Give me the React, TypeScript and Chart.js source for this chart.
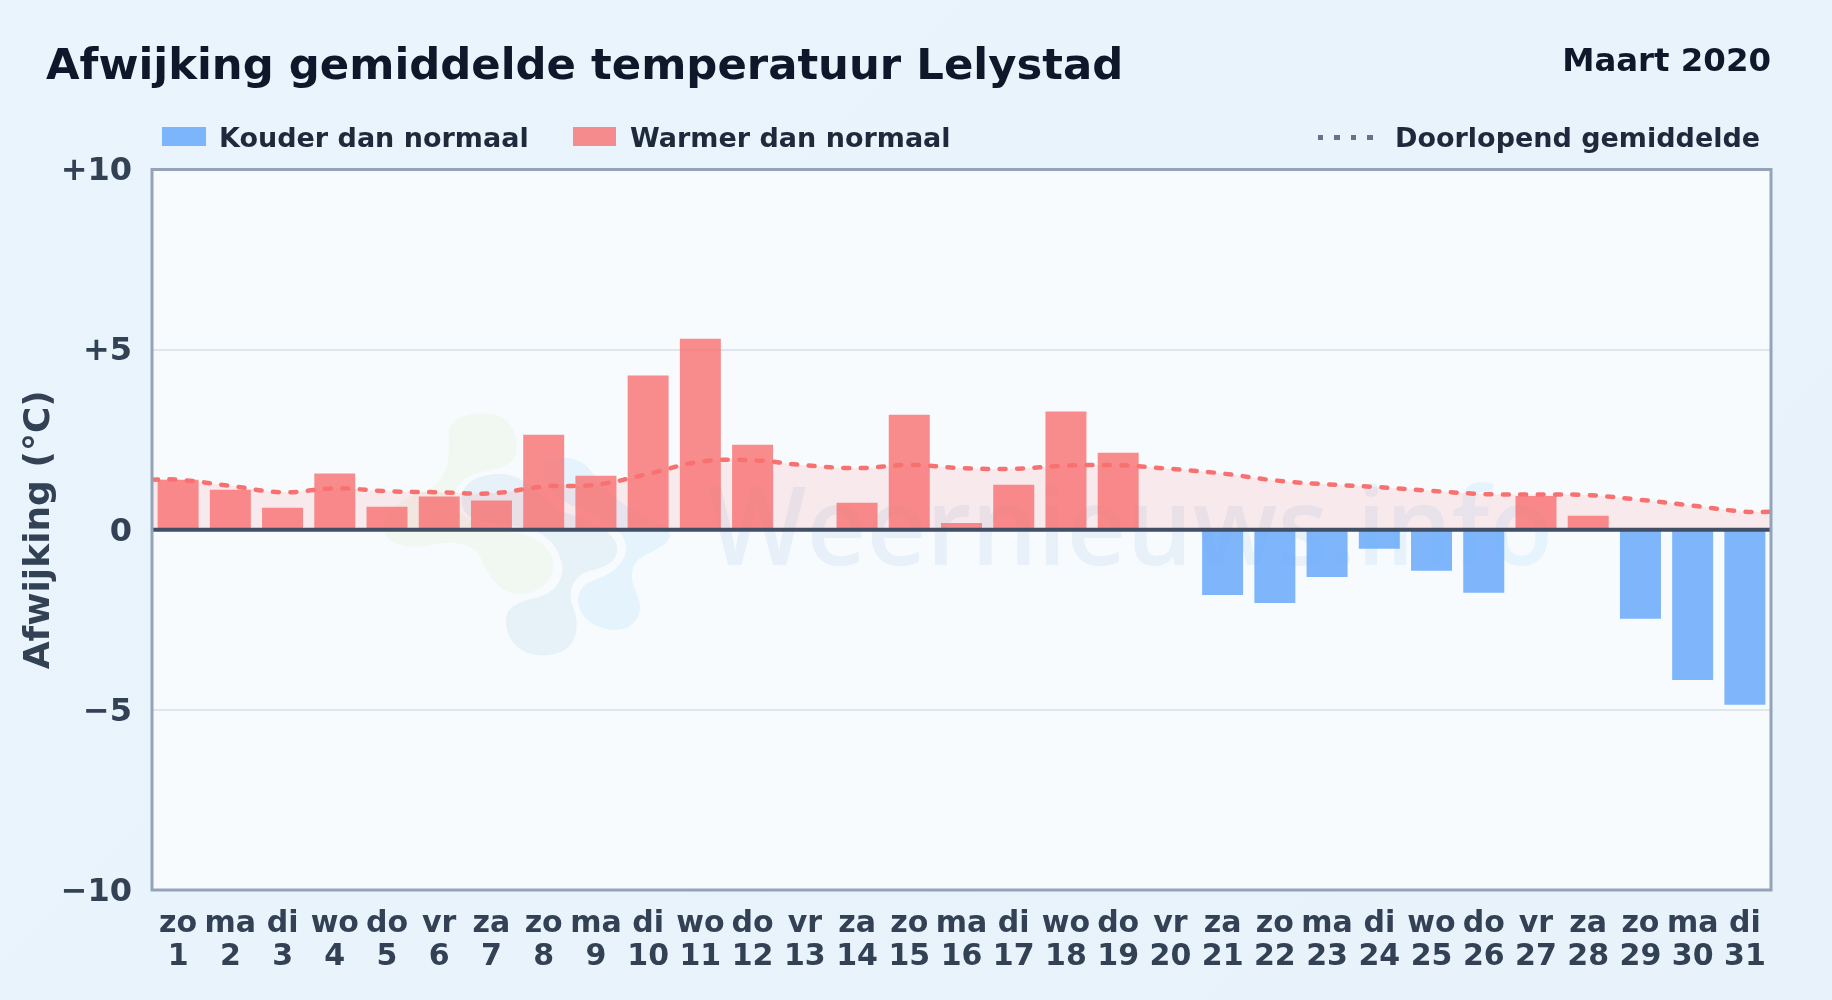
import React, { useEffect, useRef } from "react";
import { Chart, registerables } from "chart.js";

Chart.register(...registerables);

const weekdays = ["zo","ma","di","wo","do","vr","za","zo","ma","di","wo","do","vr","za","zo","ma","di","wo","do","vr","za","zo","ma","di","wo","do","vr","za","zo","ma","di"];
const days = ["1","2","3","4","5","6","7","8","9","10","11","12","13","14","15","16","17","18","19","20","21","22","23","24","25","26","27","28","29","30","31"];
const warmer = [1.39,1.11,0.61,1.56,0.64,0.92,0.81,2.64,1.5,4.28,5.3,2.36,null,0.75,3.19,0.19,1.25,3.28,2.14,null,null,null,null,null,null,null,0.94,0.39,null,null,null];
const kouder = [null,null,null,null,null,null,null,null,null,null,null,null,null,null,null,null,null,null,null,null,-1.81,-2.03,-1.31,-0.53,-1.14,-1.75,null,null,-2.47,-4.17,-4.86];
const runningX = [0.5,1,2,3,4,5,6,7,8,9,10,11,12,13,14,15,16,17,18,19,20,21,22,23,24,25,26,27,28,29,30,31,31.5];
const runningY = [1.39,1.39,1.22,1.04,1.15,1.07,1.04,1.01,1.2,1.25,1.55,1.89,1.93,1.79,1.71,1.8,1.71,1.69,1.78,1.79,1.69,1.56,1.37,1.26,1.18,1.08,0.99,0.98,0.96,0.83,0.67,0.5,0.5];
const yTicks = [10, 5, 0, -5, -10];
const yTickLabels = ["+10", "+5", "0", "\u22125", "\u221210"];

const FONT = '"DejaVu Sans", sans-serif';

const blobs: [string, string][] = [
  ["rgba(170,210,70,0.07)", "M235,100 C240,50 300,40 345,40 C410,40 445,90 440,150 C438,190 400,205 340,215 C290,225 250,250 255,300 C258,340 290,370 420,395 C500,405 555,450 550,500 C545,560 480,590 430,580 C370,565 350,510 330,470 C310,430 250,420 180,435 C110,450 50,430 40,390 C35,330 110,290 170,270 C225,245 245,190 235,100 Z"],
  ["rgba(20,100,170,0.065)", "M275,290 C280,240 340,220 395,222 C470,225 510,290 570,330 C640,360 745,390 742,450 C738,495 690,505 650,515 C610,530 595,570 605,610 C620,650 630,690 605,730 C575,770 510,775 465,755 C415,730 400,680 412,640 C425,610 470,600 510,590 C560,575 585,530 575,490 C565,440 530,400 470,385 C400,370 330,370 300,350 C280,335 272,315 275,290 Z"],
  ["rgba(56,170,248,0.09)", "M520,190 C560,165 630,165 665,215 C690,260 740,300 790,330 C850,360 905,385 900,410 C890,440 840,455 810,475 C780,500 780,540 800,580 C820,630 810,660 770,685 C720,700 660,680 635,640 C615,600 625,570 650,550 C700,530 760,510 768,450 C770,400 720,360 640,330 C570,310 520,260 520,190 Z"],
];

const frame = {
  id: "frame",
  beforeDraw(chart: any) {
    const { ctx, chartArea: a } = chart;
    ctx.save();
    ctx.fillStyle = "#f7fbfe";
    ctx.fillRect(a.left, a.top, a.right - a.left, a.bottom - a.top);
    ctx.restore();
  },
  beforeDatasetsDraw(chart: any) {
    const { ctx } = chart;
    ctx.save();
    ctx.translate(370, 400);
    ctx.scale(1 / 3, 1 / 3);
    for (const [color, d] of blobs) {
      ctx.fillStyle = color;
      ctx.fill(new Path2D(d));
    }
    ctx.restore();
    ctx.save();
    const g = ctx.createLinearGradient(714, 0, 1549, 0);
    g.addColorStop(0, "rgba(20,100,170,0.07)");
    g.addColorStop(0.65, "rgba(20,100,170,0.065)");
    g.addColorStop(1, "rgba(56,170,248,0.09)");
    ctx.fillStyle = g;
    ctx.font = `600 109px "Open Sans", ${FONT}`;
    ctx.textBaseline = "alphabetic";
    ctx.fillText("Weernieuws.info", 708, 565, 845);
    ctx.restore();
  },
  afterDatasetsDraw(chart: any) {
    const { ctx, chartArea: a, scales } = chart;
    const y0 = scales.y.getPixelForValue(0);
    ctx.save();
    ctx.strokeStyle = "#414e64";
    ctx.lineWidth = 4;
    ctx.beginPath();
    ctx.moveTo(a.left, y0);
    ctx.lineTo(a.right, y0);
    ctx.stroke();
    ctx.strokeStyle = "#94a3b8";
    ctx.lineWidth = 3;
    ctx.strokeRect(a.left, a.top, a.right - a.left, a.bottom - a.top);
    ctx.restore();
  },
};

const abs = (o: React.CSSProperties): React.CSSProperties => ({
  position: "absolute",
  fontFamily: FONT,
  fontWeight: 700,
  lineHeight: 1,
  whiteSpace: "nowrap",
  ...o,
});

export default function App() {
  const ref = useRef<HTMLCanvasElement>(null);
  useEffect(() => {
    document.body.style.margin = "0";
    const chart = new Chart(ref.current as HTMLCanvasElement, {
      type: "bar",
      data: {
        labels: weekdays.map((w, i) => [w, days[i]]),
        datasets: [
          { type: "line", label: "Doorlopend gemiddelde", xAxisID: "xLine", order: 0,
            data: runningX.map((x, i) => ({ x, y: runningY[i] })),
            borderColor: "#f87171", borderWidth: 4.5, borderDash: [6, 11.4], borderCapStyle: "round",
            backgroundColor: "rgba(248,113,113,0.13)", fill: "origin", tension: 0.4, pointRadius: 0 },
          { label: "Kouder dan normaal", data: kouder, order: 1, backgroundColor: "rgba(96,165,250,0.8)", grouped: false, barPercentage: 0.785, categoryPercentage: 1 },
          { label: "Warmer dan normaal", data: warmer, order: 1, backgroundColor: "rgba(248,113,113,0.8)", grouped: false, barPercentage: 0.785, categoryPercentage: 1 },
        ] as any,
      },
      options: {
        responsive: false,
        animation: false,
        devicePixelRatio: 1,
        layout: { padding: { top: 169.5, right: 61, left: 0, bottom: 0 } },
        plugins: { legend: { display: false }, title: { display: false }, tooltip: { enabled: false } },
        scales: {
          x: {
            type: "category",
            grid: { display: false, drawTicks: false },
            border: { display: false },
            afterFit: (s: any) => { s.height = 110; },
            ticks: {
              autoSkip: false, maxRotation: 0, minRotation: 0, padding: 18, color: "#334155",
              font: { family: FONT, size: 30, weight: "bold", lineHeight: 1.1 },
            },
          },
          xLine: { type: "linear", display: false, offset: false, min: 0.5, max: 31.5 },
          y: {
            min: -10, max: 10,
            afterFit: (s: any) => { s.width = 152; },
            afterBuildTicks: (s: any) => { s.ticks = yTicks.map((value) => ({ value })); },
            grid: { color: "#e0e7ec", lineWidth: 2, drawTicks: false },
            border: { display: false },
            ticks: {
              padding: 20, labelOffset: 2.5, color: "#334155",
              font: { family: FONT, size: 32, weight: "bold" },
              callback: (v: any) => yTickLabels[yTicks.indexOf(Number(v))],
            },
            title: { display: true, text: "Afwijking (\u00B0C)", color: "#334155", padding: { top: 18, bottom: 0 }, font: { family: FONT, size: 36, weight: "bold" } },
          },
        },
      } as any,
      plugins: [frame],
    });
    return () => chart.destroy();
  }, []);

  return (
    <div style={{ position: "relative", width: 1832, height: 1000, overflow: "hidden", background: "linear-gradient(135deg,#eaf4fc,#e8f2fb)" }}>
      <canvas ref={ref} width={1832} height={1000} style={{ position: "absolute", left: 0, top: 0, display: "block", width: 1832, height: 1000 }} />
      <div style={abs({ left: 46, top: 43, fontSize: 43.35, color: "#0f172a" })}>Afwijking gemiddelde temperatuur Lelystad</div>
      <div style={abs({ right: 61, top: 44, fontSize: 32.4, color: "#0f172a" })}>Maart 2020</div>
      <div style={{ position: "absolute", left: 162, top: 127, width: 44, height: 19, background: "rgba(96,165,250,0.8)" }} />
      <div style={abs({ left: 219, top: 124, fontSize: 27, color: "#1e293b" })}>Kouder dan normaal</div>
      <div style={{ position: "absolute", left: 573, top: 127, width: 43, height: 19, background: "rgba(248,113,113,0.8)" }} />
      <div style={abs({ left: 630, top: 124, fontSize: 27, color: "#1e293b" })}>Warmer dan normaal</div>
      <div style={{ position: "absolute", left: 1317.5, top: 134.5, width: 56, height: 5, background: "repeating-linear-gradient(90deg,#64748b 0 5.5px,transparent 5.5px 16.4px)" }} />
      <div style={abs({ left: 1395, top: 123.5, fontSize: 27, color: "#1e293b" })}>Doorlopend gemiddelde</div>
    </div>
  );
}
